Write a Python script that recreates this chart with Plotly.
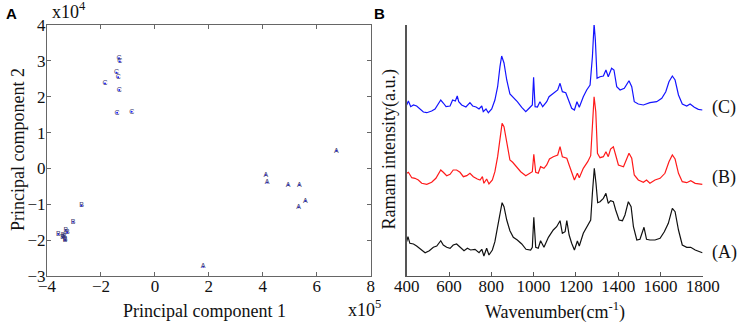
import plotly.graph_objects as go

# ---------------- Panel A: PCA scores ----------------
pc1_A = [6.73, 4.11, 4.16, 4.94, 5.35, 5.58, 5.33, 1.79]
pc2_A = [0.49, -0.18, -0.39, -0.46, -0.46, -0.91, -1.08, -2.74]
pc1_B = [-2.72, -3.03, -3.58, -3.42, -3.33, -3.30, -3.25, -3.40, -3.33, -3.36]
pc2_B = [-1.04, -1.49, -1.83, -1.92, -1.98, -1.72, -1.79, -1.86, -2.00, -1.90]
pc1_C = [-1.33, -1.30, -1.42, -1.36, -1.85, -1.32, -1.40, -0.86]
pc2_C = [3.07, 2.98, 2.67, 2.54, 2.37, 2.19, 1.55, 1.58]

xticks_A = [-4, -2, 0, 2, 4, 6, 8]
yticks_A = [-3, -2, -1, 0, 1, 2, 3, 4]

# ---------------- Panel B: Raman spectra ----------------
wn_C = [400, 408, 419, 432, 447, 463, 479, 495, 518, 534, 550, 561, 573, 586, 605, 617, 630, 639, 646, 660,
        680, 699, 712, 728, 742, 755, 762, 775, 786, 802, 817, 830, 841, 849, 860, 873, 888, 904, 923, 944,
        963, 980, 994, 1000, 1007, 1018, 1030, 1043, 1062, 1073, 1093, 1114, 1125, 1136, 1152, 1164, 1180,
        1193, 1205, 1216, 1235, 1251, 1267, 1278, 1286, 1292, 1300, 1314, 1330, 1342, 1353, 1369, 1380,
        1393, 1409, 1429, 1451, 1464, 1476, 1495, 1519, 1550, 1582, 1606, 1625, 1640, 1656, 1669, 1685,
        1703, 1724, 1740, 1760, 1779, 1798]
int_C = [170.5, 174.5, 168.8, 170.5, 169.5, 166.5, 163.5, 162.8, 164.5, 166.5, 171.5, 175.5, 172.5, 168.8,
         169.5, 175.5, 174.5, 179.5, 173.8, 170.5, 168.5, 172.8, 169.5, 168.5, 166.5, 169.5, 163.8, 166.5,
         162.8, 166.5, 175.5, 188.8, 208.8, 219.5, 212.5, 195.5, 181.5, 178.2, 173.8, 168.2, 163.8, 167.5,
         170.5, 198.2, 168.8, 168.5, 173.8, 168.8, 173.8, 178.8, 182.2, 185.5, 192.2, 183.8, 182.8, 175.5,
         167.2, 165.5, 173.8, 168.2, 178.8, 185.5, 190.5, 218.8, 251.5, 235.5, 197.2, 198.8, 199.5, 205.5,
         198.8, 207.2, 205.5, 188.8, 185.5, 187.2, 194.8, 188.8, 173.8, 171.5, 170.5, 172.8, 173.8, 177.2,
         183.8, 193.8, 199.5, 195.5, 180.5, 171.5, 169.5, 171.5, 168.2, 166.2, 165.5]

wn_B = [400, 408, 424, 439, 455, 471, 495, 518, 538, 550, 561, 573, 589, 605, 620, 636, 652, 668, 684, 699,
        715, 734, 747, 758, 765, 778, 789, 805, 817, 830, 841, 851, 860, 873, 888, 901, 920, 939, 963, 983,
        994, 1001, 1010, 1022, 1033, 1049, 1062, 1075, 1093, 1114, 1125, 1136, 1157, 1168, 1180, 1193,
        1207, 1216, 1235, 1256, 1270, 1278, 1286, 1294, 1302, 1314, 1330, 1342, 1353, 1364, 1377, 1388,
        1401, 1425, 1451, 1464, 1476, 1495, 1519, 1534, 1550, 1574, 1598, 1621, 1640, 1656, 1669, 1685,
        1703, 1724, 1743, 1764, 1798]
int_B = [102.2, 103.2, 97.8, 97.2, 95.5, 92.2, 91.2, 93.2, 97.2, 101.2, 105.5, 103.2, 99.8, 101.2, 105.5,
         105.5, 103.2, 98.8, 99.8, 102.2, 98.8, 96.5, 95.5, 98.8, 92.2, 96.5, 91.5, 95.5, 103.8, 118.8,
         137.2, 152.2, 148.8, 133.8, 115.5, 113.2, 108.8, 103.8, 99.8, 102.2, 103.8, 121.2, 103.2, 102.2,
         108.8, 107.2, 110.5, 116.5, 118.8, 120.5, 128.8, 118.8, 117.2, 110.5, 102.2, 95.5, 102.2, 97.8,
         107.2, 113.8, 119.8, 147.2, 178.8, 163.8, 122.2, 117.8, 118.8, 123.8, 118.8, 126.5, 128.8, 120.5,
         110.5, 108.8, 122.2, 117.2, 100.5, 95.5, 93.2, 95.5, 92.2, 95.5, 97.2, 102.2, 113.8, 120.5, 116.5,
         102.2, 93.8, 92.8, 94.8, 92.2, 91.2]

wn_A = [400, 406, 415, 432, 447, 466, 487, 507, 526, 542, 561, 573, 589, 605, 620, 636, 652, 671, 687, 702,
        723, 742, 755, 765, 778, 789, 805, 817, 830, 841, 851, 860, 873, 888, 904, 923, 944, 964, 986, 994,
        1001, 1010, 1022, 1033, 1049, 1070, 1093, 1109, 1125, 1136, 1149, 1157, 1168, 1180, 1193, 1207,
        1216, 1235, 1256, 1270, 1278, 1287, 1295, 1303, 1314, 1330, 1342, 1353, 1364, 1377, 1388, 1404,
        1420, 1432, 1448, 1461, 1472, 1488, 1503, 1522, 1534, 1550, 1574, 1598, 1618, 1637, 1656, 1669,
        1685, 1703, 1724, 1743, 1764, 1798]
int_A = [33.8, 38.8, 32.2, 31.5, 29.5, 26.2, 22.8, 24.8, 28.2, 29.5, 34.8, 30.5, 28.2, 27.2, 30.5, 31.5,
         28.2, 24.8, 27.2, 25.5, 26.2, 22.8, 26.2, 19.5, 27.2, 20.5, 25.5, 33.8, 48.8, 62.2, 72.8, 68.8,
         55.5, 44.8, 38.2, 35.5, 31.5, 26.2, 25.5, 28.2, 58.2, 28.2, 27.2, 34.8, 28.2, 38.2, 45.5, 48.8,
         54.8, 42.2, 43.8, 54.8, 40.5, 32.2, 25.5, 34.5, 29.5, 42.2, 50.5, 55.5, 82.2, 107.2, 92.2, 72.8,
         73.8, 77.2, 82.2, 72.2, 74.8, 73.8, 65.5, 55.5, 54.8, 60.5, 73.8, 68.8, 48.8, 35.5, 36.2, 48.2,
         36.2, 35.5, 35.5, 37.2, 43.8, 52.2, 67.2, 63.8, 45.5, 30.5, 28.2, 28.2, 25.5, 22.8]

xticks_B = [400, 600, 800, 1000, 1200, 1400, 1600, 1800]
spectrum_labels = ["(C)", "(B)", "(A)"]

SERIF = "Liberation Serif, Times New Roman, serif"
SANS = "Liberation Sans, Arial, sans-serif"
W, H = 737, 322
TICK_FS = 17
LAB_FS = 18

fig = go.Figure()

# Panel A scatter with letter markers
for xs, ys, letter in [(pc1_A, pc2_A, "A"), (pc1_B, pc2_B, "B"), (pc1_C, pc2_C, "C")]:
    fig.add_trace(go.Scatter(
        x=xs, y=ys, mode="markers+text", text=[letter] * len(xs),
        textposition="middle center",
        textfont=dict(family=SANS, size=7, color="#3a3a70"),
        marker=dict(size=2, color="#2020ff"),
        xaxis="x", yaxis="y", showlegend=False, hoverinfo="skip"))

# Panel B spectra
for xs, ys, col in [(wn_C, int_C, "#1414ff"), (wn_B, int_B, "#ff1a1a"), (wn_A, int_A, "#111111")]:
    fig.add_trace(go.Scatter(
        x=xs, y=ys, mode="lines", line=dict(color=col, width=1.2),
        xaxis="x2", yaxis="y2", showlegend=False, hoverinfo="skip"))

def px_x(p):
    return p / W

def px_y(p):
    return 1 - p / H

axA = dict(showline=True, linecolor="#666666", linewidth=1, mirror="ticks", ticks="inside",
           ticklen=4, tickcolor="#666666", showgrid=False, zeroline=False, automargin=False,
           tickfont=dict(family=SERIF, size=TICK_FS, color="#111"))

fig.update_layout(
    width=W, height=H, margin=dict(l=0, r=0, t=0, b=0),
    plot_bgcolor="white", paper_bgcolor="white",
    xaxis=dict(axA, domain=[px_x(47), px_x(370.7)], range=[-4, 8], tickvals=xticks_A,
               anchor="y", ticklabelstandoff=-5),
    yaxis=dict(axA, domain=[px_y(276), px_y(25)], range=[-3, 4], tickvals=yticks_A,
               anchor="x", ticklabelstandoff=-3),
    xaxis2=dict(domain=[px_x(406.7), px_x(702.8)], range=[400, 1800], tickvals=xticks_B,
                showline=True, linecolor="#555555", linewidth=1, ticks="inside", ticklen=4,
                tickcolor="#555555", showgrid=False, zeroline=False, anchor="y2",
                automargin=False, ticklabelstandoff=-5,
                tickfont=dict(family=SERIF, size=TICK_FS, color="#111")),
    yaxis2=dict(domain=[px_y(275.5), px_y(25)], range=[0, 250.5], showline=True,
                linecolor="#555555", linewidth=1.5, ticks="", showticklabels=False,
                showgrid=False, zeroline=False, anchor="x2", automargin=False),
)

ann = []
ann.append(dict(text="<b>A</b>", x=px_x(4), y=px_y(3), xanchor="left", yanchor="top",
                font=dict(family=SANS, size=15, color="black")))
ann.append(dict(text="<b>B</b>", x=px_x(372), y=px_y(3), xanchor="left", yanchor="top",
                font=dict(family=SANS, size=15, color="black")))
ann.append(dict(text="x10<sup>4</sup>", x=px_x(50), y=px_y(24), xanchor="left", yanchor="bottom",
                font=dict(family=SERIF, size=LAB_FS, color="#111")))
ann.append(dict(text="x10<sup>5</sup>", x=px_x(346), y=px_y(295), xanchor="left", yanchor="top",
                font=dict(family=SERIF, size=LAB_FS, color="#111")))
ann.append(dict(text="Principal component 1", x=px_x(204), y=px_y(299), xanchor="center",
                yanchor="top", font=dict(family=SERIF, size=LAB_FS, color="#111")))
ann.append(dict(text="Principal component 2", x=px_x(6), y=px_y(150), xanchor="left",
                yanchor="middle", textangle=-90, font=dict(family=SERIF, size=LAB_FS, color="#111")))
ann.append(dict(text="Wavenumber(cm<sup>-1</sup>)", x=px_x(555), y=px_y(297), xanchor="center",
                yanchor="top", font=dict(family=SERIF, size=LAB_FS, color="#111")))
ann.append(dict(text="Ramam intensity(a.u.)", x=px_x(376), y=px_y(150), xanchor="left",
                yanchor="middle", textangle=-90, font=dict(family=SERIF, size=LAB_FS, color="#111")))
label_y = [107, 177, 252]
for lab, yy in zip(spectrum_labels, label_y):
    ann.append(dict(text=lab, x=px_x(710), y=px_y(yy), xanchor="left", yanchor="middle",
                    font=dict(family=SERIF, size=LAB_FS, color="#111")))
for a in ann:
    a.update(xref="paper", yref="paper", showarrow=False)
fig.update_layout(annotations=ann)

fig.write_html("out.html", config={"displayModeBar": False},
               post_script="document.body.style.margin='0';document.body.style.overflow='hidden';")
